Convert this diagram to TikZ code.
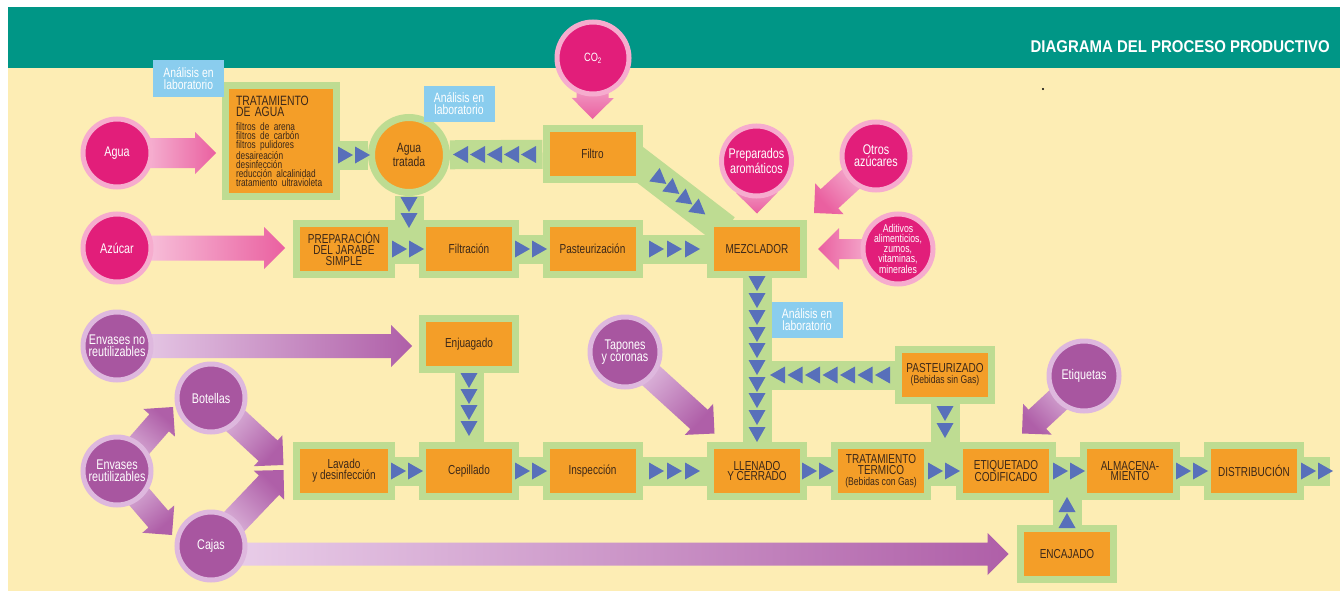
\documentclass[tikz,border=0pt]{standalone}
\usepackage{fontspec}
\setmainfont{Liberation Sans}[FakeStretch=0.77]
\newfontfamily\titlef{Liberation Sans}[FakeStretch=0.88]
\usetikzlibrary{calc}
\definecolor{tealc}{RGB}{0,150,134}
\definecolor{cream}{RGB}{253,237,180}
\definecolor{bandg}{RGB}{190,220,146}
\definecolor{orng}{RGB}{244,158,40}
\definecolor{triblue}{RGB}{88,112,186}
\definecolor{mag}{RGB}{226,30,122}
\definecolor{magring}{RGB}{246,172,206}
\definecolor{purp}{RGB}{168,86,160}
\definecolor{purpring}{RGB}{222,184,222}
\definecolor{labblue}{RGB}{138,205,238}
\definecolor{txtb}{RGB}{60,40,25}
\definecolor{pinkA}{RGB}{250,212,230}
\definecolor{pinkB}{RGB}{234,96,160}
\definecolor{purA}{RGB}{234,208,234}
\definecolor{purB}{RGB}{175,95,168}
\pgfdeclarelayer{back}
\pgfdeclarelayer{mid}
\pgfsetlayers{back,mid,main}
\newcommand\fatarrow[6]{%
  \coordinate (faS) at (#1);
  \coordinate (faE) at (#2);
  \coordinate (faN) at ($(faE)!21pt!(faS)$);
  \shade[top color=#5, bottom color=#6, shading angle=#4]
    ($(faS)!#3!90:(faE)$) -- ($(faN)!#3!90:(faE)$) -- ($(faN)!21pt!90:(faE)$) -- (faE)
    -- ($(faN)!21pt!-90:(faE)$) -- ($(faN)!#3!-90:(faE)$) -- ($(faS)!#3!-90:(faE)$) -- cycle;
}
\newcommand\ptri[3]{\pic[rotate=#3] at (#1,#2) {tri};}
\tikzset{
  tri/.pic={\fill[triblue] (-7,-8.5) -- (8,0) -- (-7,8.5) -- cycle;},
  proc/.style={rectangle, fill=orng, draw=bandg, line width=7pt, minimum width=93pt,
    minimum height=51pt, inner sep=0pt, text=txtb, align=center,
    font=\fontsize{13}{10.8}\selectfont},
  pinksrc/.style={circle, fill=mag, draw=magring, line width=5pt, minimum size=68pt,
    inner sep=0pt, text=white, align=center, font=\fontsize{14}{12}\selectfont},
  purpsrc/.style={circle, fill=purp, draw=purpring, line width=5pt, minimum size=68pt,
    inner sep=0pt, text=white, align=center, font=\fontsize{14}{12}\selectfont},
  lab/.style={rectangle, fill=labblue, minimum width=71pt, minimum height=36pt,
    inner sep=0pt, text=white, align=center, font=\fontsize{13.5}{11.3}\selectfont},
  band/.style={draw=bandg, line width=29pt}
}
\begin{document}
\begin{tikzpicture}[x=1pt,y=-1pt]
\useasboundingbox (0,0) rectangle (1340,594);
\begin{pgfonlayer}{back}
  \fill[white] (0,0) rectangle (1340,594);
  \fill[cream] (8,68) rectangle (1340,591);
  \fill[tealc] (8,7) rectangle (1340,68);
\end{pgfonlayer}

\node[anchor=east, inner sep=0pt, text=white, font=\titlef\fontsize{17}{20}\selectfont\bfseries] (title) at (1330,46.5) {DIAGRAMA DEL PROCESO PRODUCTIVO};
\fill (1043,89) circle (1.2);

% process boxes
\node[proc, minimum width=111pt, minimum height=111pt, text width=90pt, align=left] (trat) at (281,141)
  {{\fontsize{13.5}{11.5}\selectfont TRATAMIENTO\\DE AGUA\par}\vspace{5pt}{\fontsize{10.8}{8.9}\selectfont filtros de arena\\filtros de carbón\\filtros pulidores\\desaireación\\desinfección\\reducción alcalinidad\\tratamiento ultravioleta\par}};
\node[circle, fill=orng, draw=bandg, line width=7pt, minimum size=75pt, inner sep=0pt, text=txtb, align=center, font=\fontsize{13.5}{11.5}\selectfont] (aguat) at (409,155) {Agua\\tratada};
\node[proc] (filtro) at (592.5,154) {Filtro};
\node[proc, minimum width=95pt] (prep) at (344,249) {PREPARACIÓN\\DEL JARABE\\SIMPLE};
\node[proc] (filtracion) at (469,249) {Filtración};
\node[proc] (pasteur) at (592.5,249) {Pasteurización};
\node[proc] (mezclador) at (757,249) {MEZCLADOR};
\node[proc] (enjuagado) at (469,344) {Enjuagado};
\node[proc] (pasteurizado) at (945,375) {PASTEURIZADO\\{\fontsize{11.2}{10}\selectfont(Bebidas sin Gas)}};
\node[proc, minimum width=95pt] (lavado) at (344,471) {Lavado\\y desinfección};
\node[proc] (cepillado) at (469,471) {Cepillado};
\node[proc] (inspeccion) at (592.5,471) {Inspección};
\node[proc] (llenado) at (757,471) {LLENADO\\Y CERRADO};
\node[proc] (tt) at (881,471) {TRATAMIENTO\\TERMICO\\{\fontsize{11.2}{10.5}\selectfont(Bebidas con Gas)}};
\node[proc] (etiq) at (1006,471) {ETIQUETADO\\CODIFICADO};
\node[proc] (alm) at (1130,471) {ALMACENA-\\MIENTO};
\node[proc] (dist) at (1254,471) {DISTRIBUCIÓN};
\node[proc] (encajado) at (1067,554) {ENCAJADO};
\coordinate (out) at ($(dist.east)+(26,0)$);

% source circles
\node[pinksrc] (agua) at (117,153) {Agua};
\node[pinksrc] (azucar) at (117,248) {Azúcar};
\node[pinksrc, minimum size=72pt, font=\fontsize{12}{12}\selectfont] (co2) at (593,58) {CO\textsubscript{2}};
\node[pinksrc, minimum size=70pt] (preparados) at (756.5,161) {Preparados\\aromáticos};
\node[pinksrc] (otros) at (876,156) {Otros\\azúcares};
\node[pinksrc, minimum size=70pt, font=\fontsize{11.3}{9.6}\selectfont] (aditivos) at (898,249) {Aditivos\\alimenticios,\\zumos,\\vitaminas,\\minerales};
\node[purpsrc] (envno) at (117,346) {Envases no\\reutilizables};
\node[purpsrc] (botellas) at (211,398) {Botellas};
\node[purpsrc] (envre) at (117,471) {Envases\\reutilizables};
\node[purpsrc] (cajas) at (211,546) {Cajas};
\node[purpsrc, minimum size=70pt] (tapones) at (625,352) {Tapones\\y coronas};
\node[purpsrc, minimum size=70pt] (etiquetas) at (1084,376) {Etiquetas};

% green connector bands
\begin{pgfonlayer}{mid}
  \draw[band] (trat.east |- aguat) -- (aguat);
  \draw[band] (filtro) -- (aguat);
  \draw[band] (aguat) -- (aguat |- prep);
  \draw[band] (prep) -- (mezclador);
  \draw[band, line width=32pt] ($(filtro.east)+(-14,2)$) -- ($(mezclador.north west)+(18,10)$);
  \draw[band] (mezclador) -- (llenado);
  \draw[band] (pasteurizado) -- (pasteurizado -| mezclador);
  \draw[band] (pasteurizado) -- (pasteurizado |- tt);
  \draw[band] (enjuagado) -- (cepillado);
  \draw[band] (lavado) -- (out);
  \draw[band] (encajado) -- (encajado |- alm);
  % input arrows
  \fatarrow{agua}{$(trat.west |- agua)+(-6,0)$}{15pt}{90}{pinkA}{pinkB}
  \fatarrow{azucar}{$(prep.west |- azucar)+(-8,0)$}{12.5pt}{90}{pinkA}{pinkB}
  \fatarrow{envno}{$(enjuagado.west |- envno)+(-7,0)$}{12pt}{90}{purA}{purB}
  \fatarrow{$(cajas |- encajado)$}{$(encajado.west)+(-8.5,0)$}{11.5pt}{90}{purA}{purB}
  \fatarrow{co2}{$(filtro.north)+(0,-6)$}{16pt}{0}{pinkA}{pinkB}
  \fatarrow{preparados}{$(mezclador.north)+(0,-6.5)$}{11pt}{0}{pinkA}{pinkB}
  \fatarrow{otros}{$(mezclador.north east)+(7,-7)$}{13pt}{-47.7}{pinkA}{pinkB}
  \fatarrow{aditivos}{$(mezclador.east)+(11,0)$}{10pt}{270}{pinkA}{pinkB}
  \fatarrow{tapones}{$(llenado.north west)+(7.5,-8.5)$}{13pt}{47.6}{purA}{purB}
  \fatarrow{etiquetas}{$(etiq.north)+(16,-8.5)$}{13pt}{-45.5}{purA}{purB}
  \fatarrow{envre}{$(botellas)+(-38,9)$}{13pt}{138.8}{purA}{purB}
  \fatarrow{envre}{$(cajas)+(-39,-11)$}{13pt}{40.7}{purA}{purB}
  \fatarrow{botellas}{$(lavado.west)+(-9.5,-6)$}{14pt}{48.6}{purA}{purB}
  \fatarrow{cajas}{$(lavado.west)+(-9.5,-1)$}{14pt}{135}{purA}{purB}
\end{pgfonlayer}

% flow triangles
\foreach \x in {345,362} \ptri{\x}{155}{0};
\foreach \x in {461,478,495,512,529} \ptri{\x}{154.5}{180};
\foreach \y in {204,220} \ptri{409}{\y}{-90};
\foreach \x in {399,416,522,539,656,674,692} \ptri{\x}{249}{0};
\ptri{660}{179}{-38} \ptri{673}{189}{-38} \ptri{686}{199.5}{-38} \ptri{699}{209.5}{-38}
\foreach \y in {283,300,317,334,350,367,384,400,417,434} \ptri{757}{\y}{-90};
\foreach \x in {778,795.5,813,830.5,848,865.5,883} \ptri{\x}{375}{180};
\foreach \y in {413,430} \ptri{945}{\y}{-90};
\foreach \y in {380,396,412,428} \ptri{469}{\y}{-90};
\foreach \x in {398,415,522,539,656,674,692,809,826,935,952,1060,1077,1183,1200,1308,1325} \ptri{\x}{471}{0};
\foreach \y in {505,521} \ptri{1067}{\y}{90};

% lab analysis labels
\node[lab] (lab1) at (188.5,78.5) {Análisis en\\laboratorio};
\node[lab] (lab2) at (459,103.5) {Análisis en\\laboratorio};
\node[lab] (lab3) at (807,319.5) {Análisis en\\laboratorio};
\end{tikzpicture}
\end{document}
